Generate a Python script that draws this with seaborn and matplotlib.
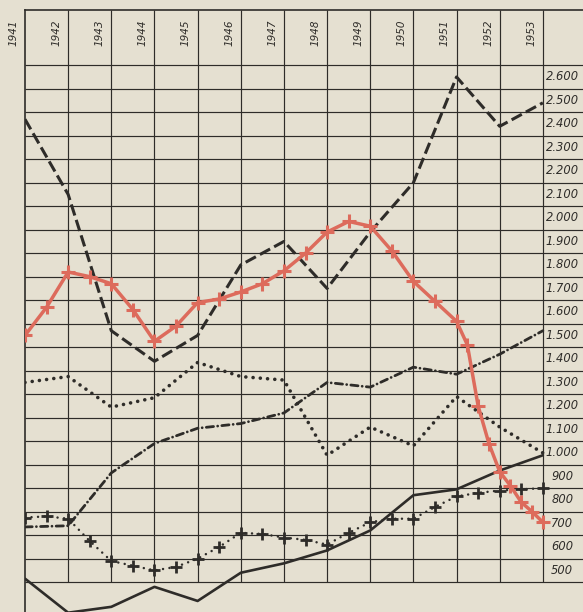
import numpy as np
import pandas as pd
import matplotlib
matplotlib.use('Agg')
import matplotlib.pyplot as plt
import seaborn as sns

# yearly series
years = list(range(1941, 1954))
dashed = [2420, 2100, 1520, 1390, 1500, 1800, 1900, 1700, 1940, 2150, 2600, 2390, 2490]
dotted = [1300, 1325, 1195, 1235, 1385, 1325, 1310, 990, 1110, 1030, 1240, 1110, 1000]
dashdot = [685, 690, 915, 1040, 1105, 1125, 1170, 1300, 1280, 1365, 1335, 1420, 1520]
solid = [465, 320, 345, 430, 370, 490, 530, 585, 670, 820, 845, 925, 990]

# red series (crosses), roughly half-yearly
red_t = [1941, 1941.5, 1942, 1942.5, 1943, 1943.5, 1944, 1944.5, 1945, 1945.5,
         1946, 1946.5, 1947, 1947.5, 1948, 1948.5, 1949, 1949.5, 1950, 1950.5,
         1951, 1951.25, 1951.5, 1951.75, 1952, 1952.25, 1952.5, 1952.75, 1953]
red_v = [1500, 1620, 1770, 1750, 1720, 1610, 1475, 1540, 1640, 1655,
         1685, 1720, 1775, 1850, 1940, 1985, 1965, 1860, 1730, 1645,
         1560, 1460, 1200, 1040, 920, 860, 790, 750, 705]

# dark crosses, half-yearly
cross_t = [1941 + 0.5 * i for i in range(25)]
cross_v = [725, 730, 720, 625, 540, 520, 500, 515, 550, 600,
           660, 655, 640, 630, 610, 660, 705, 720, 720, 770,
           815, 830, 840, 845, 850]

value_ticks = list(range(2600, 400, -100))
value_labels = [f"{v // 1000}.{v % 1000:03d}" if v >= 1000 else str(v) for v in value_ticks]
year_labels = [str(y) for y in years]

paper = '#e5e0d1'
ink = '#2e2c29'
red = '#dd6b5c'

sns.set_theme(style='white', rc={'axes.facecolor': paper, 'figure.facecolor': paper})
plt.rcParams['font.family'] = ['DejaVu Sans']

fig = plt.figure(figsize=(5.83, 6.12), dpi=100)
ax = fig.add_axes([25 / 583, 0, 558 / 583, 602 / 612])
ax.set_xlim(1941, 1953.93)
ax.set_ylim(323, 2885)

# the grid of the paper
ax.hlines(range(450, 2651, 100), 1941, 1953.93, color=ink, lw=0.85, zorder=1)
ax.vlines(years[1:], 450, 2885, color=ink, lw=0.85, zorder=1)
for s in ['right', 'bottom']:
    ax.spines[s].set_visible(False)
for s in ['left', 'top']:
    ax.spines[s].set_color(ink)
    ax.spines[s].set_linewidth(1.2)
ax.set_xticks([])
ax.set_yticks([])

# header years and value column
for y, lab in zip(years, year_labels):
    ax.text(y - 0.27, 2790, lab, rotation=90, ha='center', va='center',
            fontsize=7.5, style='italic', color=ink)
for v, lab in zip(value_ticks, value_labels):
    ax.text(1953.45, v, lab, ha='center', va='center', fontsize=8.3,
            style='italic', color=ink)

# lines
sns.lineplot(x=years, y=solid, ax=ax, color=ink, lw=1.9, errorbar=None,
             solid_capstyle='round', zorder=3)
sns.lineplot(x=years, y=dashdot, ax=ax, color=ink, lw=2.0, errorbar=None,
             linestyle=(0, (2.6, 1.5, 0.01, 1.5)), dash_capstyle='round', zorder=3)
sns.lineplot(x=years, y=dotted, ax=ax, color=ink, lw=2.6, errorbar=None,
             linestyle=(0, (0.01, 2.0)), dash_capstyle='round', zorder=3)
sns.lineplot(x=cross_t, y=cross_v, ax=ax, color=ink, lw=1.8, errorbar=None,
             linestyle=(0, (0.01, 2.6)), dash_capstyle='round',
             marker='+', markersize=9, markeredgewidth=2.0, markeredgecolor=ink, zorder=3)
sns.lineplot(x=years, y=dashed, ax=ax, color=ink, lw=2.2, errorbar=None,
             linestyle=(0, (3.8, 1.5)), zorder=4)
sns.lineplot(x=red_t, y=red_v, ax=ax, color=red, lw=2.5, errorbar=None,
             solid_capstyle='round', solid_joinstyle='round',
             marker='+', markersize=10, markeredgewidth=2.2, markeredgecolor=red, zorder=5)

ax.set_xlabel('')
ax.set_ylabel('')
fig.savefig('out.png', dpi=100, facecolor=paper)
